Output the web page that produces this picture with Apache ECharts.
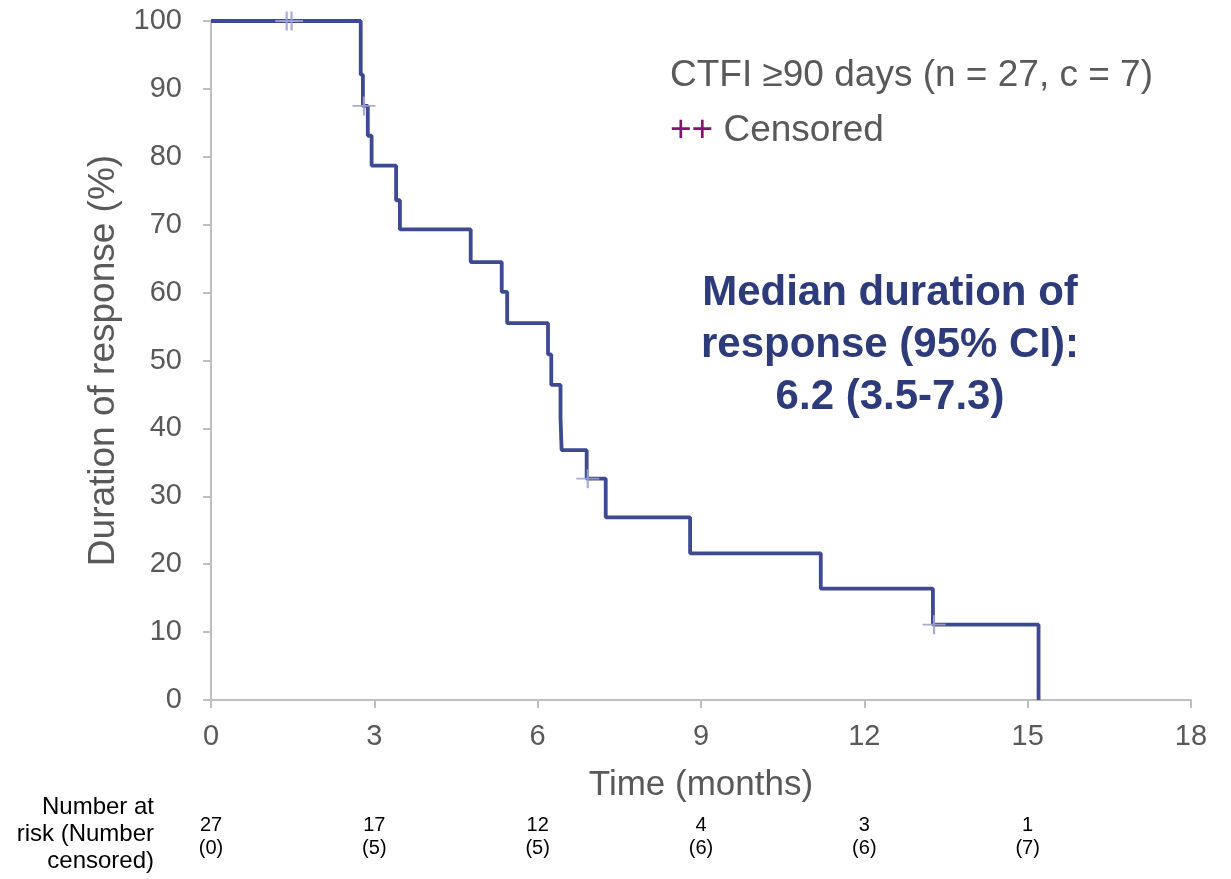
<!DOCTYPE html>
<html>
<head>
<meta charset="utf-8">
<script src="https://cdn.jsdelivr.net/npm/echarts@6/dist/echarts.min.js"></script>
<style>
  html, body { margin: 0; padding: 0; background: #fff; }
  #chart { width: 1231px; height: 879px; }
</style>
</head>
<body>
<div id="chart"></div>
<script>
// KM step points: time (months) and survival (%) after each drop
const times = [0, 2.75, 2.79, 2.88, 2.95, 3.40, 3.47, 4.77, 5.34, 5.44, 6.19, 6.25, 6.42, 6.44, 6.90, 7.25, 8.80, 11.20, 13.26, 15.20]
const survival = [100, 92.1, 87.5, 83.1, 78.7, 73.6, 69.3, 64.5, 60.1, 55.5, 50.9, 46.4, 41.5, 36.8, 32.6, 26.9, 21.6, 16.4, 11.1, 0]

// censored marks
const censorTimes = [1.39, 1.48, 2.81, 6.92, 13.28]
const censorValues = [100, 100, 87.5, 32.6, 11.1]

// number at risk table
const riskTimes = [0, 3, 6, 9, 12, 15]
const atRisk = [27, 17, 12, 4, 3, 1]
const censoredCount = [0, 5, 5, 6, 6, 7]

const lineColor = '#3d4a91'
const censorColor = '#9da2d0'
const textGrey = '#595959'
const axisGrey = '#bfbfbf'
const font = 'Liberation Sans, Arial, sans-serif'

const chart = echarts.init(document.getElementById('chart'))

const option = {
  animation: false,
  textStyle: { fontFamily: font },
  grid: { left: 211, right: 40, top: 21, bottom: 179 },
  xAxis: [
    {
      type: 'value',
      min: 0,
      max: 18,
      interval: 3,
      name: 'Time (months)',
      nameLocation: 'middle',
      nameGap: 68,
      nameTextStyle: { fontSize: 35, color: textGrey },
      axisLine: { show: true, lineStyle: { color: axisGrey, width: 2 } },
      axisTick: { show: true, length: 8, lineStyle: { color: axisGrey, width: 2 } },
      axisLabel: { fontSize: 29, color: textGrey, margin: 22 },
      splitLine: { show: false }
    },
    {
      // at-risk table rows, aligned to the time axis
      type: 'value',
      min: 0,
      max: 18,
      interval: 3,
      position: 'bottom',
      offset: 106,
      axisLine: { show: false },
      axisTick: { show: false },
      splitLine: { show: false },
      axisLabel: {
        fontSize: 20,
        lineHeight: 23,
        margin: 8,
        color: '#000',
        formatter: function (v) {
          const i = riskTimes.indexOf(v)
          if (i < 0) return ''
          return atRisk[i] + '\n(' + censoredCount[i] + ')'
        }
      }
    }
  ],
  yAxis: {
    type: 'value',
    min: 0,
    max: 100,
    interval: 10,
    name: 'Duration of response (%)',
    nameLocation: 'middle',
    nameGap: 80,
    nameTextStyle: { fontSize: 37, color: textGrey },
    axisLine: { show: true, lineStyle: { color: axisGrey, width: 2 } },
    axisTick: { show: true, length: 8, lineStyle: { color: axisGrey, width: 2 } },
    axisLabel: { fontSize: 29, color: textGrey, margin: 29 },
    splitLine: { show: false }
  },
  series: [
    {
      type: 'line',
      step: 'end',
      data: times.map((t, i) => [t, survival[i]]),
      showSymbol: false,
      lineStyle: { color: lineColor, width: 3.8 },
      z: 2
    },
    {
      type: 'scatter',
      data: censorTimes.map((t, i) => [t, censorValues[i]]),
      symbol: 'path://M0,10 L24,10 M12,0 L12,20',
      symbolSize: [23, 19],
      itemStyle: { color: 'transparent', borderColor: censorColor, borderWidth: 2, opacity: 0.9 },
      z: 3
    }
  ],
  graphic: [
    {
      type: 'text',
      left: 670,
      top: 57,
      style: { text: 'CTFI ≥90 days (n = 27, c = 7)', fontSize: 37, fill: textGrey, fontFamily: font }
    },
    {
      type: 'text',
      left: 670,
      top: 112,
      style: {
        text: '{p|++} Censored',
        fontSize: 37,
        fill: textGrey,
        fontFamily: font,
        rich: { p: { fill: '#84136f', fontSize: 37, fontFamily: font } }
      }
    },
    {
      type: 'text',
      x: 890,
      y: 267,
      style: {
        text: 'Median duration of\nresponse (95% CI):\n6.2 (3.5-7.3)',
        fontSize: 42,
        fontWeight: 'bold',
        lineHeight: 52,
        align: 'center',
        fill: '#2e3b7b',
        fontFamily: font
      }
    },
    {
      type: 'text',
      x: 154,
      y: 794,
      style: {
        text: 'Number at\nrisk (Number\ncensored)',
        fontSize: 24,
        lineHeight: 27,
        align: 'right',
        fill: '#000',
        fontFamily: font
      }
    }
  ]
}

chart.setOption(option)
</script>
</body>
</html>
